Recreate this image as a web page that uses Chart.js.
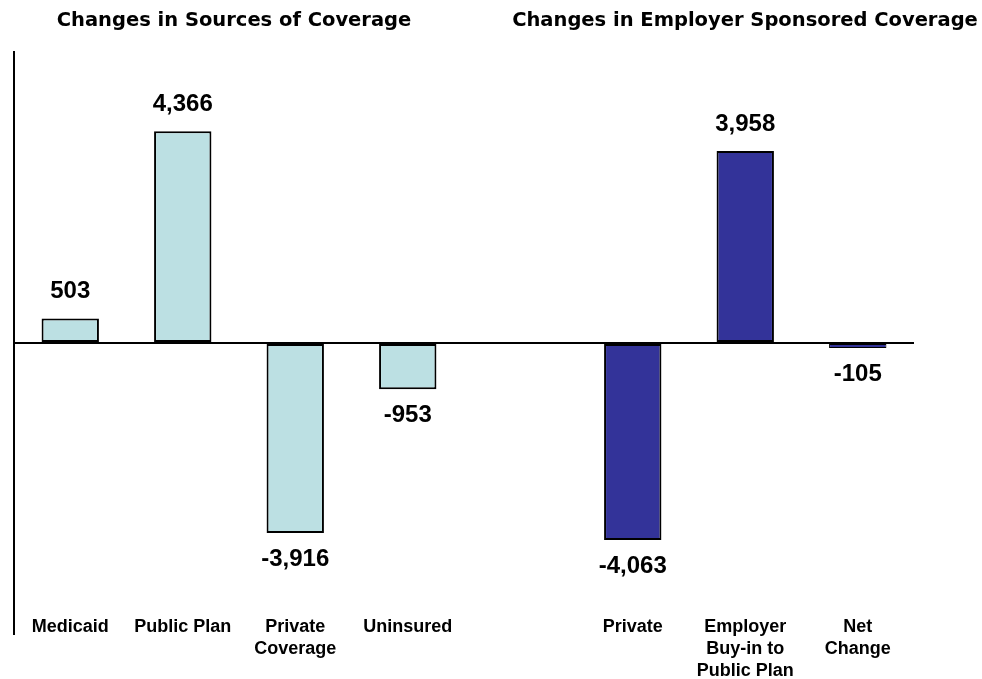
<!DOCTYPE html>
<html>
<head>
<meta charset="utf-8">
<script src="https://cdn.jsdelivr.net/npm/chart.js@4.4.1/dist/chart.umd.min.js"></script>
<style>
  html, body { margin: 0; padding: 0; background: #fff; }
  #wrap { position: relative; width: 982px; height: 679px; }
  canvas { position: absolute; left: 0; top: 0; }
  .title {
    position: absolute; top: 8px;
    font: bold 19.5px "DejaVu Sans", Verdana, sans-serif;
    color: #000; white-space: nowrap; transform: translateX(-50%);
  }
</style>
</head>
<body>
<div id="wrap">
  <canvas id="chart" width="982" height="679"></canvas>
  <div class="title" style="left:234px">Changes in Sources of Coverage</div>
  <div class="title" style="left:745px">Changes in Employer Sponsored Coverage</div>
</div>
<script>
// categories (empty slot separates the two groups)
const categories = [
  ["Medicaid"], ["Public Plan"], ["Private", "Coverage"], ["Uninsured"],
  [""],
  ["Private"], ["Employer", "Buy-in to", "Public Plan"], ["Net", "Change"],
];
const sourcesValues = [503, 4366, -3916, -953, null, null, null, null];
const employerValues = [null, null, null, null, null, -4063, 3958, -105];
const yMin = -6000;
const yMax = 6000;

const lightFill = "#bce0e3";
const darkFill = "#333399";

function fmt(v) {
  return new Intl.NumberFormat("en-US").format(v);
}

// thin bars get a thinner outline so the fill still shows
function outline(c) {
  const bar = c.element;
  if (bar && bar.base != null && Math.abs(bar.base - bar.y) < 10) return 1;
  return 2;
}

const valueLabels = {
  id: "valueLabels",
  afterDatasetsDraw(chart) {
    const ctx = chart.ctx;
    ctx.save();
    ctx.font = "bold 24px 'Liberation Sans', Arial, sans-serif";
    ctx.fillStyle = "#000";
    ctx.textAlign = "center";
    ctx.textBaseline = "middle";
    chart.data.datasets.forEach((ds, di) => {
      const meta = chart.getDatasetMeta(di);
      meta.data.forEach((bar, i) => {
        const v = ds.data[i];
        if (v == null) return;
        const y = v >= 0 ? bar.y - 27 : bar.y + 26;
        ctx.fillText(fmt(v), bar.x, y);
      });
    });
    ctx.restore();
  },
};

const categoryLabels = {
  id: "categoryLabels",
  afterDraw(chart) {
    const ctx = chart.ctx;
    const xs = chart.scales.x;
    ctx.save();
    ctx.font = "bold 18px 'Liberation Sans', Arial, sans-serif";
    ctx.fillStyle = "#000";
    ctx.textAlign = "center";
    ctx.textBaseline = "alphabetic";
    categories.forEach((lines, i) => {
      const x = xs.getPixelForValue(i);
      lines.forEach((line, k) => {
        ctx.fillText(line, x, 632 + k * 22);
      });
    });
    ctx.restore();
  },
};

new Chart(document.getElementById("chart"), {
  type: "bar",
  data: {
    labels: categories.map((c) => c.join(" ")),
    datasets: [
      {
        data: sourcesValues,
        backgroundColor: lightFill,
        borderColor: "#000",
        borderWidth: 2,
        borderSkipped: false,
        skipNull: true,
      },
      {
        data: employerValues,
        backgroundColor: darkFill,
        borderColor: "#000",
        borderWidth: [2, 2, 2, 2, 2, 2, 2, 1],
        borderSkipped: false,
        skipNull: true,
      },
    ],
  },
  options: {
    responsive: false,
    animation: false,
    devicePixelRatio: 1,
    layout: { padding: { left: 14, right: 68, top: 52, bottom: 45 } },
    plugins: { legend: { display: false }, tooltip: { enabled: false } },
    datasets: { bar: { grouped: false, categoryPercentage: 1, barPercentage: 0.51 } },
    scales: {
      x: {
        display: false,
        grid: { display: false },
      },
      y: {
        min: yMin,
        max: yMax,
        ticks: { display: false, stepSize: 2000 },
        border: { display: true, color: "#000", width: 2 },
        grid: {
          drawTicks: false,
          color: (c) => (c.tick && c.tick.value === 0 ? "#000" : "rgba(0,0,0,0)"),
          lineWidth: 2,
        },
      },
    },
  },
  plugins: [valueLabels, categoryLabels],
});
</script>
</body>
</html>
